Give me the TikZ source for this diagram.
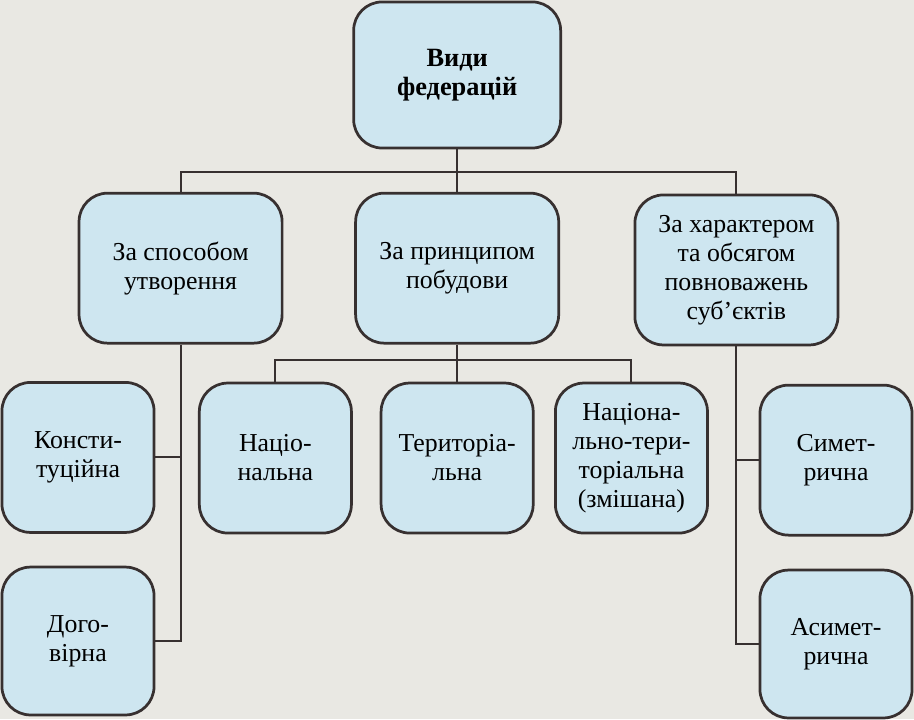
\documentclass[tikz,border=0pt]{standalone}
\usepackage{fontspec}
\setmainfont{Liberation Serif}
\definecolor{paper}{RGB}{233,232,227}
\definecolor{boxblue}{RGB}{206,230,240}
\definecolor{ink}{RGB}{55,48,48}
\begin{document}
\begin{tikzpicture}
      [box/.style={draw=ink, line width=2.6pt, fill=boxblue, rounded corners=0.95cm, align=center, inner sep=0pt, font=\fontsize{24.5}{27.5}\selectfont},
       bigbox/.style={box, minimum width=6.77cm, minimum height=5cm},
       smallbox/.style={box, minimum width=5.07cm, minimum height=5cm},
       link/.style={draw=ink, line width=1.9pt}]
      \fill[paper] (0, 0) rectangle (30.47, 23.97);
      \useasboundingbox (0, 0) rectangle (30.47, 23.97);
      \node[box, minimum width=6.9cm, minimum height=4.87cm, font=\fontsize{25}{28}\selectfont\bfseries](1) at (15.24, 21.47) {Види\\федерацій};
      \node[bigbox](2) at (6.02, 15.03) {За способом\\утворення};
      \node[bigbox](3) at (15.24, 15.03) {За принципом\\побудови};
      \node[bigbox](4) at (24.55, 14.97) {За характером\\та обсягом\\повноважень\\суб’єктів};
      \node[smallbox](5) at (2.6, 8.72) {Консти-\\туційна};
      \node[smallbox, minimum height=4.93cm](6) at (2.6, 2.6) {Дого-\\вірна};
      \node[smallbox](7) at (9.18, 8.7) {Націо-\\нальна};
      \node[smallbox](8) at (15.24, 8.7) {Територіа-\\льна};
      \node[smallbox](9) at (21.05, 8.7) {Націона-\\льно-тери-\\торіальна\\(змішана)};
      \node[smallbox](10) at (27.87, 8.63) {Симет-\\рична};
      \node[smallbox, minimum height=4.93cm](11) at (27.87, 2.5) {Асимет-\\рична};
      \coordinate(b1) at (15.24, 18.23);
      \coordinate(b2) at (15.24, 11.97);
      \draw[link](1) -- (3);
      \draw[link](2.north) |- (b1) -| (4.north);
      \draw[link](3) -- (8);
      \draw[link](7.north) |- (b2) -| (9.north);
      \draw[link](2.south) |- (6.east);
      \draw[link](5.east) -- (5.east -| 2.south);
      \draw[link](4.south) |- (11.west);
      \draw[link](10.west) -- (10.west -| 4.south);
  \end{tikzpicture}
\end{document}
